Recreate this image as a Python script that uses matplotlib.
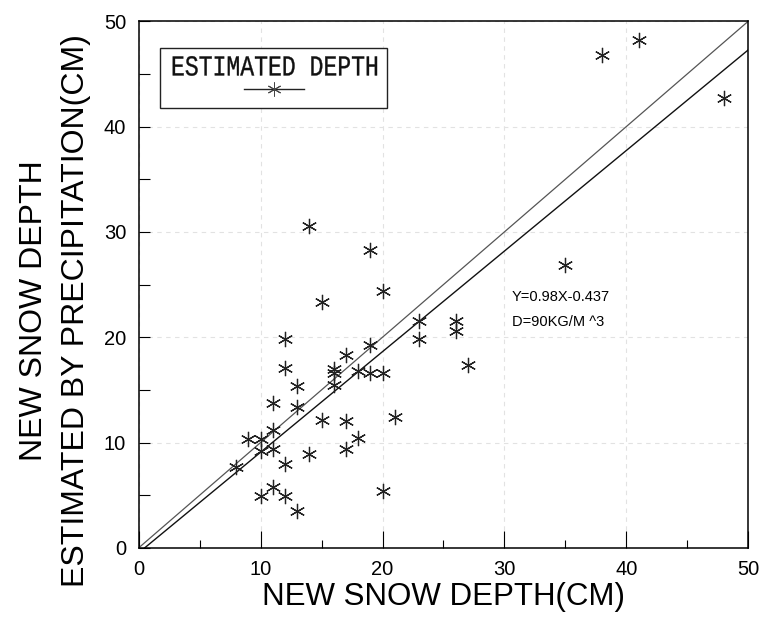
import matplotlib.pyplot as plt
from matplotlib.font_manager import FontProperties
from matplotlib.patches import PathPatch, Rectangle
from matplotlib.textpath import TextPath
from matplotlib.transforms import Affine2D
import numpy as np

plt.rcParams["font.family"] = ["Liberation Sans", "DejaVu Sans"]

measured = [14, 19, 35, 38, 41, 48, 20, 15, 23, 26, 26, 12, 23, 19, 27, 17, 12,
            16, 16, 16, 18, 19, 20, 13, 11, 13, 15, 17, 21, 11, 9, 10, 11, 10,
            18, 17, 14, 12, 8, 10, 11, 12, 13, 20]
estimated = [30.6, 28.3, 26.9, 46.8, 48.2, 42.7, 24.4, 23.3, 21.5, 21.5, 20.6,
             19.8, 19.8, 19.3, 17.4, 18.3, 17.1, 17.0, 16.6, 15.5, 16.8, 16.6,
             16.6, 15.4, 13.8, 13.4, 12.1, 12.0, 12.4, 11.2, 10.3, 10.3, 9.4,
             9.2, 10.4, 9.4, 8.9, 8.0, 7.7, 4.9, 5.8, 4.9, 3.5, 5.4]

# fitted line as drawn, and the 1:1 line
fit_slope = 0.955
fit_intercept = -0.47
eq_lines = ["Y=0.98X-0.437", "D=90KG/M ^3"]
legend_title = "ESTIMATED DEPTH"

fig = plt.figure(figsize=(7.62, 6.24), dpi=100)
ax = fig.add_axes([0.182, 0.122, 0.800, 0.844])

xs = np.array([0, 50])
ax.plot(xs, xs, color="#555555", lw=0.9)
fx = np.array([-fit_intercept / fit_slope, 50])
ax.plot(fx, fit_slope * fx + fit_intercept, color="#111111", lw=1.0)

star = (6, 2, 0)
ax.plot(measured, estimated, linestyle="none", marker=star, markersize=11,
        markeredgewidth=0.9, color="#222222")

ax.text(30.6, 23.8, eq_lines[0], fontsize=10.5, va="center")
ax.text(30.6, 21.4, eq_lines[1], fontsize=10.5, va="center")

ax.set_xlim(0, 50)
ax.set_ylim(0, 50)
ax.set_xticks(np.arange(0, 51, 10))
ax.set_xticks(np.arange(5, 50, 10), minor=True)
ax.set_yticks(np.arange(0, 51, 10))
ax.set_yticks(np.arange(5, 50, 10), minor=True)
ax.tick_params(axis="x", which="major", direction="in", length=12, width=0.8,
               labelsize=14.5, pad=9)
ax.tick_params(axis="x", which="minor", direction="in", length=6, width=0.8)
ax.tick_params(axis="y", which="both", direction="in", length=8, width=0.8,
               labelsize=14.5, pad=9)
ax.grid(True, which="major", color="#e2e2e2", lw=0.8, linestyle=(0, (4, 4)))
for s in ax.spines.values():
    s.set_linewidth(1.1)

ax.set_xlabel("NEW SNOW DEPTH(CM)", fontsize=22.5, labelpad=2)
fig.text(0.072, 0.503, "NEW SNOW DEPTH\nESTIMATED BY PRECIPITATION(CM)",
         rotation=90, ha="center", va="center", fontsize=23, linespacing=1.5)

# legend box drawn by hand: tall narrow title, line with marker below
ax_w, ax_h = 609, 526  # axes size in pixels
ax.add_patch(Rectangle((0.0345, 0.835), 0.3725, 0.114, transform=ax.transAxes,
                       facecolor="white", edgecolor="#222222", lw=1.0, zorder=5))
mono = FontProperties(family="Liberation Mono")
tp = TextPath((0, 0), legend_title, size=1, prop=mono)
ext = tp.get_extents()
cap = TextPath((0, 0), "E", size=1, prop=mono).get_extents().y1
sx = (204 / ax_w) / ext.width
sy = (19 / ax_h) / cap
tr = Affine2D().translate(-ext.x0, 0).scale(sx, sy).translate(0.056, 0.897)
ax.add_patch(PathPatch(tp, transform=tr + ax.transAxes, facecolor="#111111",
                       edgecolor="#111111", lw=0.25, zorder=6))
ax.plot([0.172, 0.271], [0.871, 0.871], color="#222222", lw=1.0,
        transform=ax.transAxes, zorder=6)
ax.plot([0.2215], [0.871], marker=star, markersize=10, markeredgewidth=0.7,
        color="#444444", transform=ax.transAxes, zorder=6)

fig.savefig("out.png", dpi=100)
